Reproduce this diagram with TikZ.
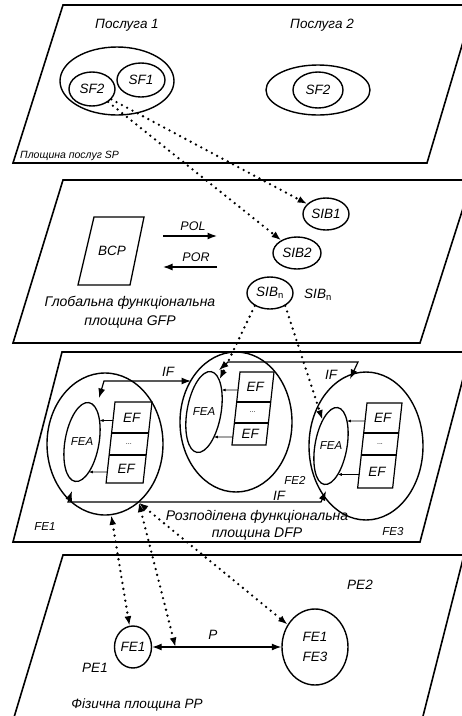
\documentclass[tikz,border=0pt]{standalone}
\usepackage{fontspec}
\setmainfont{Liberation Sans}
\usetikzlibrary{shapes.geometric,arrows.meta,calc,intersections}

\tikzset{
  plane/.style={draw, line width=1.6pt, line join=miter},
  box/.style={line width=1.2pt},
  lbl/.style={font=\fontsize{13.5}{16}\selectfont\itshape, inner sep=0pt},
  smalllbl/.style={font=\fontsize{11.5}{14}\selectfont\itshape, inner sep=0pt},
  ell/.style={draw, ellipse, line width=1.4pt, inner sep=0pt},
  fea/.style={draw, ellipse, line width=1.3pt, inner sep=0pt, rotate=-10},
  tipA/.tip={Latex[length=9.5pt,width=7pt]},
  dotarrow/.style={line width=2.6pt, line cap=round, dash pattern=on 0pt off 6pt, -tipA},
  dotboth/.style={line width=2.6pt, line cap=round, dash pattern=on 0pt off 6pt, tipA-tipA},
  solidarrow/.style={line width=1.3pt, -tipA},
  ifarrow/.style={line width=1.2pt, tipA-tipA},
  smallarrow/.style={line width=0.7pt, -{Latex[length=4pt,width=3pt]}},
}

% EF stack: #1 prefix, #2 left x at top, #3 top y, #4 divider1 y, #5 divider2 y, #6 bottom y, #7 width
\newcommand\efstack[7]{%
  \pgfmathsetmacro\efLa{#2}%
  \pgfmathsetmacro\efLb{#2-0.11*(#4-#3)}%
  \pgfmathsetmacro\efLc{#2-0.11*(#5-#3)}%
  \pgfmathsetmacro\efLd{#2-0.11*(#6-#3)}%
  \draw[box] (\efLa,#3) -- (\efLa+#7,#3) -- (\efLd+#7,#6) -- (\efLd,#6) -- cycle;
  \draw[box] (\efLb,#4) -- (\efLb+#7,#4) (\efLc,#5) -- (\efLc+#7,#5);
  \node[lbl, minimum width=#7] (#1a) at ({(\efLa+\efLb+#7)/2},{(#3+#4)/2}) {EF};
  \node[lbl, font=\fontsize{7}{8}\selectfont, minimum width=#7] (#1b) at ({(\efLb+\efLc+#7)/2},{(#4+#5)/2}) {...};
  \node[lbl, minimum width=#7] (#1c) at ({(\efLc+\efLd+#7)/2},{(#5+#6)/2}) {EF};
}

% small arrow from EF box to FEA ellipse: #1 EF node, #2 ellipse path name, #3 coordinate name
\newcommand\efarrow[3]{%
  \path[name path=efh] ($(#1.west)+(0,3)$) -- ++(-26,0);
  \path[name intersections={of=efh and #2, by=#3, sort by=efh}];
  \draw[smallarrow] ($(#1.west)+(0,3)$) -- (#3);
}

\begin{document}
\begin{tikzpicture}[x=1pt,y=-1pt]
\useasboundingbox (0,0) rectangle (462,716);
\clip (0,0) rectangle (462,716);

% ---------- planes ----------
\draw[plane] (63,5) -- (474,5) -- (427,163) -- (13,163) -- cycle;
\draw[plane] (63,180) -- (472,180) -- (420,343) -- (13,343) -- cycle;
\draw[plane] (62,352) -- (470,352) -- (420,542) -- (13,542) -- cycle;
\draw[plane] (63,555) -- (464,555) -- (421,724) -- (12,724) -- cycle;

% ---------- service plane ----------
\node[lbl] (srv1t) at (127,25) {Послуга 1};
\node[lbl] (srv2t) at (322,25) {Послуга 2};
\node[ell, minimum width=114, minimum height=68] (srv1) at (117,81) {};
\node[ell, lbl, minimum width=48, minimum height=34] (sf1) at (141,80) {SF1};
\node[ell, lbl, minimum width=46, minimum height=34] (sf2a) at (92,89) {SF2};
\node[ell, minimum width=104, minimum height=50] (srv2) at (318,90) {};
\node[ell, lbl, minimum width=50, minimum height=36] (sf2b) at (318,90) {SF2};
\node[lbl, font=\fontsize{10.5}{12}\selectfont\itshape, anchor=west] (spt) at (20,156) {Площина послуг SP};

% ---------- global functional plane ----------
\draw[box, line width=1.3pt] (94,217) -- (144,217) -- (130,285) -- (78,285) -- cycle;
\node[lbl] (bcp) at (112,251) {BCP};
\coordinate (pol1) at (163,236);
\coordinate (pol2) at (217,236);
\coordinate (por1) at (217,267);
\coordinate (por2) at (163,267);
\draw[solidarrow] (pol1) -- (pol2);
\draw[solidarrow] (por1) -- (por2);
\node[lbl, font=\fontsize{12.5}{14}\selectfont\itshape] (polt) at (193,226) {POL};
\node[lbl, font=\fontsize{12.5}{14}\selectfont\itshape] (port) at (196,257) {POR};
\node[lbl, align=center, font=\fontsize{14}{19}\selectfont\itshape] (gfp) at (130,312) {Глобальна функціональна\\площина GFP};
\node[ell, lbl, minimum width=46, minimum height=32] (sib1) at (326,214) {SIB1};
\node[ell, lbl, minimum width=48, minimum height=32] (sib2) at (297,253) {SIB2};
\node[ell, lbl, minimum width=46, minimum height=32] (sibn) at (270,293) {SIB\textsubscript{\upshape n}};
\node[lbl] (sibnt) at (318,295) {SIB\textsubscript{\upshape n}};

% ---------- distributed functional plane ----------
\node[ell, minimum width=116, minimum height=142] (fe1) at (105,444) {};
\node[ell, minimum width=112, minimum height=140] (fe2) at (236,422) {};
\node[ell, minimum width=114, minimum height=148] (fe3) at (366,446) {};

\node[fea, minimum width=34, minimum height=80] (fea1) at (82,442) {};
\node[fea, minimum width=34, minimum height=82] (fea2) at (204,412) {};
\node[fea, minimum width=32, minimum height=78] (fea3) at (331,446) {};
\path[name path=fea1p, rotate around={-10:(82,442)}] (82,442) ellipse [x radius=17, y radius=40];
\path[name path=fea2p, rotate around={-10:(204,412)}] (204,412) ellipse [x radius=17, y radius=41];
\path[name path=fea3p, rotate around={-10:(331,446)}] (331,446) ellipse [x radius=16, y radius=39];
\node[smalllbl] (fea1t) at (82,442) {FEA};
\node[smalllbl] (fea2t) at (204,412) {FEA};
\node[smalllbl] (fea3t) at (331,446) {FEA};

\efstack{efa}{115}{402}{433}{455}{483}{37}
\efstack{efb}{240}{372}{402}{423}{445}{34}
\efstack{efc}{367}{403}{433}{455}{488}{35}

\efarrow{efaa}{fea1p}{xa1}
\efarrow{efac}{fea1p}{xa2}
\efarrow{efba}{fea2p}{xb1}
\efarrow{efbc}{fea2p}{xb2}
\efarrow{efca}{fea3p}{xc1}
\efarrow{efcc}{fea3p}{xc2}

% IF links
\coordinate (i1a) at (99,398);
\coordinate (i1b) at (104,381);
\coordinate (i1c) at (191,381);
\draw[ifarrow] (i1a) -- (i1b) -- (i1c);
\node[lbl] (if1) at (168,372) {IF};

\coordinate (i2a) at (219,370);
\coordinate (i2b) at (228,362);
\coordinate (i2c) at (358,362);
\coordinate (i2d) at (350,379);
\draw[ifarrow] (i2a) -- (i2b) -- (i2c) -- (i2d);
\node[lbl] (if2) at (331,375) {IF};

\coordinate (i3a) at (72,491);
\coordinate (i3b) at (68,502);
\coordinate (i3c) at (321,502);
\coordinate (i3d) at (326,491);
\draw[ifarrow] (i3a) -- (i3b) -- (i3c) -- (i3d);
\node[lbl] (if3) at (279,496) {IF};

\node[smalllbl] (fe1t) at (45,527) {FE1};
\node[smalllbl] (fe2t) at (295,480) {FE2};
\node[smalllbl] (fe3t) at (393,532) {FE3};
\node[lbl, align=center, font=\fontsize{14}{17}\selectfont\itshape] (dfp) at (257,525) {Розподілена функціональна\\площина DFP};

% ---------- physical plane ----------
\node[ell, lbl, minimum width=37, minimum height=42] (pfe1) at (133,647) {FE1};
\node[ell, lbl, align=center, font=\fontsize{13.5}{20}\selectfont\itshape, minimum width=66, minimum height=76] (pfe13) at (315,647) {FE1\\FE3};
\draw[ifarrow] (pfe1) -- (pfe13);
\node[lbl] (pt) at (213,635) {P};
\node[lbl] (pe2) at (360,585) {PE2};
\node[lbl] (pe1) at (95,668) {PE1};
\node[lbl] (ppt) at (137,705) {Фізична площина PP};
\coordinate (plk) at ($(pfe1.east)!0.18!(pfe13.west)$);

% ---------- dotted mappings ----------
\draw[dotarrow] (sf2a) -- (sib1);
\draw[dotarrow] (sf2a) -- (sib2);
\draw[dotarrow] (sibn.220) -- (fea2);
\draw[dotarrow] (sibn.320) -- (fea3);
\draw[dotboth] (fe1.275) -- (pfe1);
\draw[dotboth] (fe1.300) -- (plk);
\draw[dotboth] (fe1.300) -- (pfe13);
\end{tikzpicture}
\end{document}
